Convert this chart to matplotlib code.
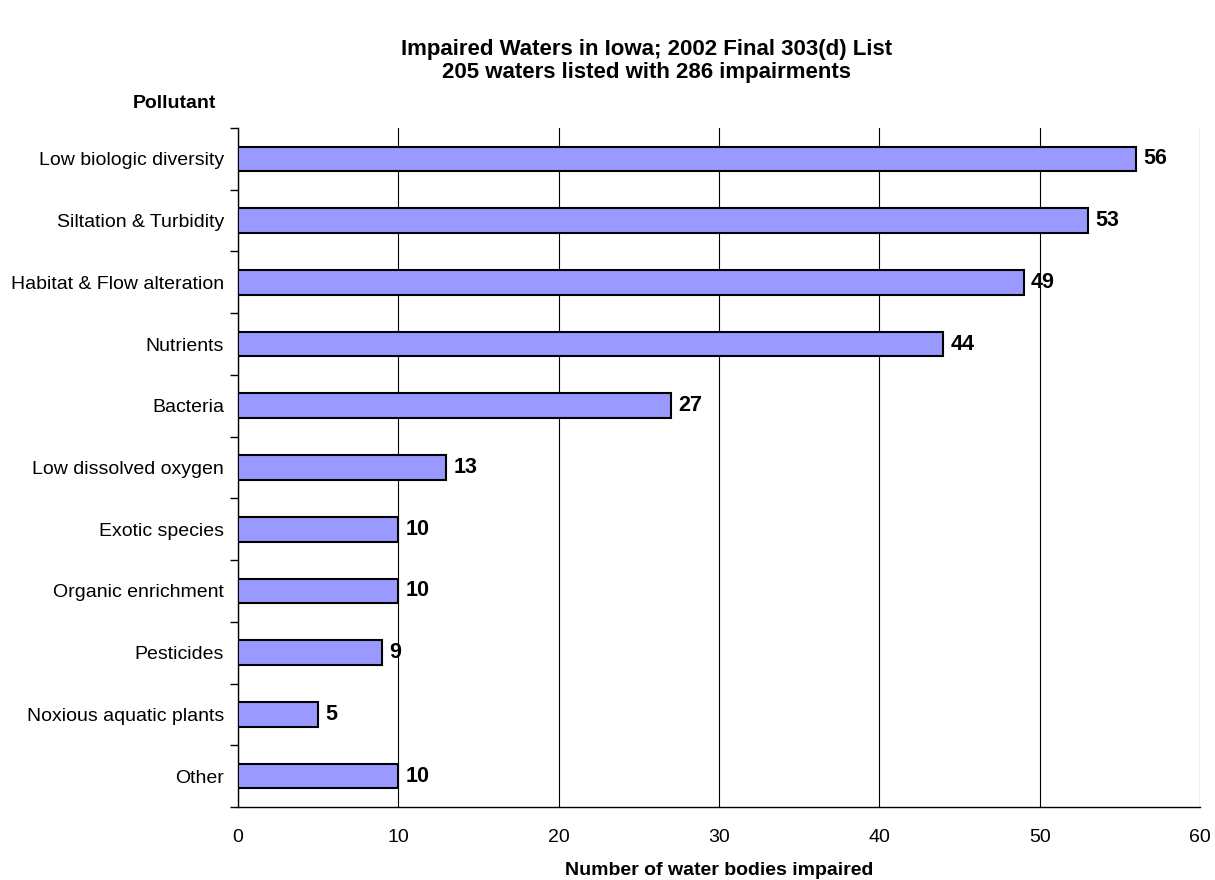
import matplotlib
matplotlib.use("Agg")
import matplotlib.pyplot as plt

# Data
pollutants = ["Low biologic diversity", "Siltation & Turbidity", "Habitat & Flow alteration",
              "Nutrients", "Bacteria", "Low dissolved oxygen", "Exotic species",
              "Organic enrichment", "Pesticides", "Noxious aquatic plants", "Other"]
counts = [56, 53, 49, 44, 27, 13, 10, 10, 9, 5, 10]
xticks = [0, 10, 20, 30, 40, 50, 60]

plt.rcParams["font.family"] = ["Liberation Sans", "DejaVu Sans"]

fig = plt.figure(figsize=(12.15, 8.8), dpi=100)
ax = fig.add_axes([238/1215, 1-807/880, (1200-238)/1215, (807-128)/880])

n = len(pollutants)
ypos = list(range(n))
ax.barh(ypos, counts, height=0.4, color="#9999FF", edgecolor="black", linewidth=1.5, zorder=3)

#value labels
for y, v in zip(ypos, counts):
    ax.text(v + 0.45, y, str(v), va="center", ha="left", fontsize=15.5, fontweight="bold")

ax.set_ylim(n - 0.5, -0.5)
ax.set_xlim(0, 60)
ax.set_xticks(xticks)
ax.set_xticklabels([str(t) for t in xticks], fontsize=14)
ax.tick_params(axis="x", length=0, pad=15.5)

# category labels centered, ticks on band boundaries
ax.set_yticks(ypos)
ax.set_yticklabels(pollutants, fontsize=14)
ax.tick_params(axis="y", which="major", length=0, pad=10)
ax.set_yticks([i - 0.5 for i in range(n + 1)], minor=True)
ax.tick_params(axis="y", which="minor", length=6, width=1, direction="out")

ax.grid(axis="x", color="black", linewidth=0.8, zorder=0)
ax.spines["top"].set_visible(False)
ax.spines["right"].set_visible(False)
ax.spines["left"].set_linewidth(1)
ax.spines["bottom"].set_linewidth(1)

ax.set_xlabel("Number of water bodies impaired", fontsize=14, fontweight="bold", labelpad=12)

fig.text(174/1215, 1-103/880, "Pollutant", ha="center", va="center", fontsize=14, fontweight="bold")
fig.text(647/1215, 1-61/880, "Impaired Waters in Iowa; 2002 Final 303(d) List\n205 waters listed with 286 impairments",
         ha="center", va="center", fontsize=16, fontweight="bold", linespacing=1.15)

fig.savefig("out.png", dpi=100)
